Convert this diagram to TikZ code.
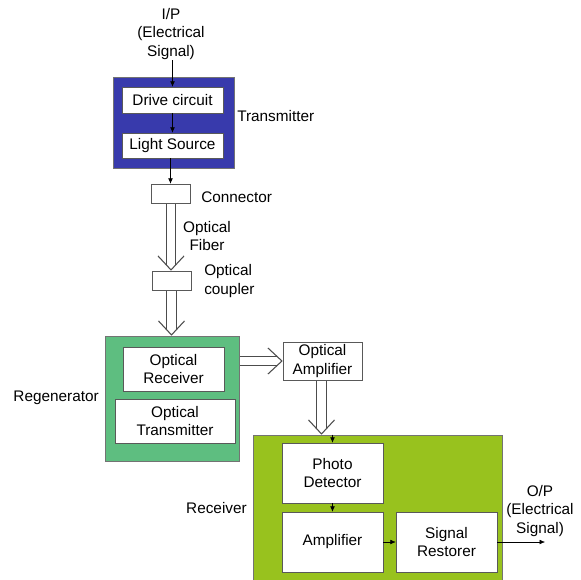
\documentclass[tikz,border=0pt]{standalone}
\usepackage{fontspec}
\setmainfont{Liberation Sans}
\usetikzlibrary{arrows.meta, backgrounds}
\definecolor{txblue}{RGB}{56,58,172}
\definecolor{regengreen}{RGB}{94,190,128}
\definecolor{rxgreen}{RGB}{152,194,30}
\tikzset{
    block/.style={draw=black!65, fill=white, align=center, inner sep=0pt},
    stage/.style={draw=black!55, inner sep=0pt},
    tag/.style={align=center, inner sep=0pt},
    sig/.style={-{Latex[length=4pt, width=3.5pt]}},
    fibre/.style={draw=black!70, line width=0.9pt, double=white,
        double distance=6.4pt, shorten >=4pt},
    fibrehead/.style={white, line width=0.6pt,
        -{Straight Barb[black!70, length=10.5pt, width=19.5pt, line width=0.8pt]}}
}
\newcommand{\fibrelink}[2]{%
    \draw[fibre] #1 -- #2;
    \draw[fibrehead] #1 -- #2;}

\begin{document}
\begin{tikzpicture}[
        x=0.75pt, y=-0.75pt,
        font=\fontsize{11.5}{14.2}\selectfont
    ]
        \clip (0, 0) rectangle (581, 579);
        % transmitter
        \node[stage, fill=txblue, minimum width=90.75pt, minimum height=68.25pt] (tx) at (173.5, 122.5) {};
        \node[block, minimum width=75.75pt, minimum height=19.5pt] (drive) at (172.5, 100) {Drive circuit};
        \node[block, minimum width=75.75pt, minimum height=18.75pt] (light) at (172.5, 145.5) {Light Source};
        \node[tag] (ip) at (171, 34) {I/P\\(Electrical\\Signal)};
        \node[tag, anchor=west] (txlabel) at (237, 116) {Transmitter};
        % link
        \node[block, minimum width=29.25pt, minimum height=14.25pt] (conn) at (170.5, 193.5) {};
        \node[block, minimum width=29.25pt, minimum height=14.25pt] (coupler) at (171.5, 280.5) {};
        \node[tag, anchor=west] (connlabel) at (201, 197) {Connector};
        \node[tag] (fibrelabel) at (207, 236) {Optical\\Fiber};
        \node[tag, anchor=west, align=left] (couplerlabel) at (204, 281) {Optical\\coupler};
        % regenerator
        \node[stage, fill=regengreen, minimum width=100.5pt, minimum height=93.75pt] (regen) at (172, 398.5) {};
        \node[block, minimum width=75.75pt, minimum height=33pt] (orx) at (173.5, 369) {Optical\\Receiver};
        \node[block, minimum width=90pt, minimum height=33pt] (otx) at (175, 421) {Optical\\Transmitter};
        \node[tag, anchor=east] (regenlabel) at (99, 398) {Regenerator};
        \node[block, minimum width=59.25pt, minimum height=28.5pt] (oamp) at (322.5, 361) {Optical\\Amplifier};
        % receiver
        \node[stage, fill=rxgreen, minimum width=186.75pt, minimum height=116.25pt] (rx) at (377.5, 512.5) {};
        \node[block, minimum width=75.75pt, minimum height=45pt] (pd) at (332.5, 473) {Photo\\Detector};
        \node[block, minimum width=75.75pt, minimum height=45pt] (amp) at (332.5, 542) {Amplifier};
        \node[block, minimum width=75.75pt, minimum height=45pt] (restorer) at (446.5, 542) {Signal\\Restorer};
        \node[tag, anchor=east] (rxlabel) at (247, 508) {Receiver};
        \node[tag] (op) at (540, 511) {O/P\\(Electrical\\Signal)};
        \coordinate (opend) at (545, 542);

        \draw[sig] (drive.north |- ip.south) -- (drive.north);
        \draw[sig] (drive) -- (light);
        \draw[sig] (conn.north |- light.south) -- (conn.north);
        % fibres go under the boxes
        \begin{pgfonlayer}{background}
            \fibrelink{(171, 203)}{(coupler.north -| 171, 0)}
            \fibrelink{(coupler.south)}{(regen.north -| coupler.south)}
            \fibrelink{(regen.east |- oamp.west)}{(oamp.west)}
            \fibrelink{(oamp.south -| 321.5, 0)}{(rx.north -| 321.5, 0)}
        \end{pgfonlayer}
        \draw[sig] (pd.north |- rx.north) -- (pd.north);
        \draw[sig] (pd) -- (amp);
        \draw[sig] (amp) -- (restorer);
        \draw[sig] (restorer.east) -- (opend);
    \end{tikzpicture}
\end{document}
